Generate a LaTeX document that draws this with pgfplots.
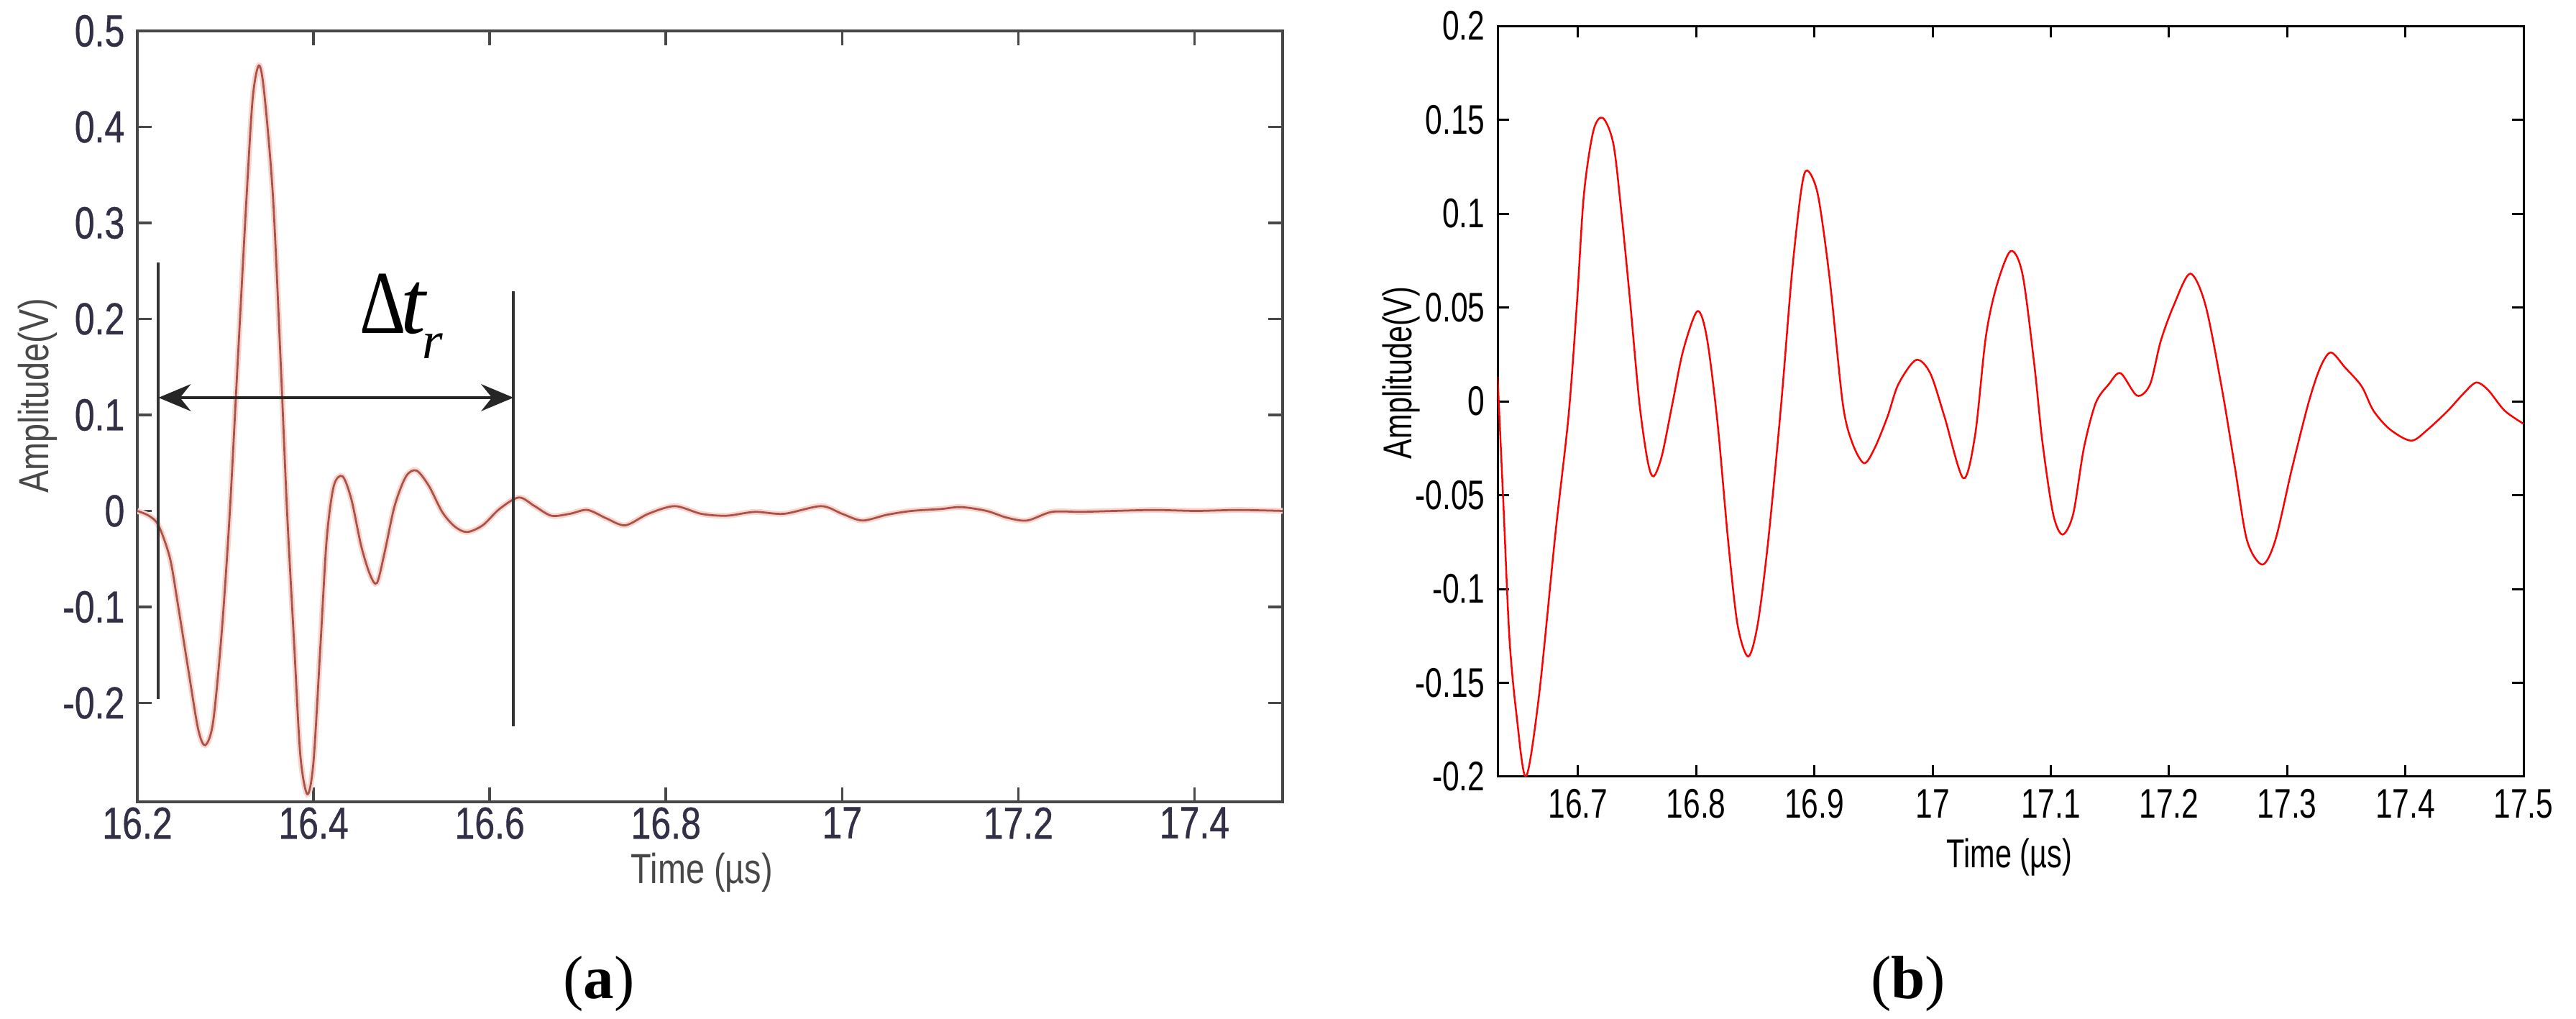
\documentclass[border=0pt]{standalone}
\usepackage{pgfplots}
\pgfplotsset{compat=1.18}
\usepackage{pgfplotstable}
\usetikzlibrary{arrows.meta}
\usepackage{fontspec}
\setmainfont{Liberation Sans}
\newfontfamily\lnarrow[FakeStretch=0.8]{Liberation Sans}
\newfontfamily\lnarrowb[FakeStretch=0.8,FakeBold=0.6]{Liberation Sans}
\newfontfamily\rnarrow[FakeStretch=0.74]{Liberation Sans}
\newfontfamily\tms{Liberation Serif}
\definecolor{trace}{RGB}{170,82,72}
\definecolor{halo}{RGB}{248,214,208}
\definecolor{inkA}{RGB}{50,48,70}
\definecolor{frameA}{RGB}{72,72,72}

% (a) received echo
\pgfplotstableread{
t v
16.200 0.000
16.213 -0.005
16.224 -0.015
16.237 -0.049
16.246 -0.097
16.258 -0.166
16.269 -0.227
16.277 -0.244
16.286 -0.220
16.296 -0.124
16.305 -0.001
16.314 0.156
16.324 0.327
16.331 0.430
16.338 0.464
16.344 0.436
16.354 0.327
16.363 0.149
16.370 -0.001
16.378 -0.138
16.385 -0.254
16.393 -0.295
16.400 -0.261
16.408 -0.138
16.415 -0.029
16.423 0.026
16.433 0.036
16.443 0.012
16.454 -0.036
16.464 -0.066
16.472 -0.075
16.481 -0.042
16.492 0.005
16.505 0.036
16.517 0.042
16.531 0.026
16.546 -0.001
16.560 -0.016
16.574 -0.022
16.592 -0.015
16.611 0.002
16.633 0.014
16.651 0.005
16.670 -0.005
16.691 -0.003
16.711 0.001
16.733 -0.008
16.754 -0.015
16.780 -0.003
16.810 0.005
16.840 -0.003
16.869 -0.005
16.901 -0.001
16.934 -0.003
16.976 0.005
17.000 -0.003
17.023 -0.010
17.051 -0.004
17.079 0.000
17.112 0.002
17.135 0.004
17.164 0.000
17.187 -0.007
17.210 -0.010
17.238 -0.001
17.271 -0.001
17.309 0.000
17.355 0.001
17.402 0.000
17.449 0.001
17.500 0.000
}\echoA

% (b) reflected signal
\pgfplotstableread{
t v
16.632 0.013
16.637 -0.056
16.642 -0.126
16.648 -0.167
16.656 -0.200
16.667 -0.157
16.681 -0.070
16.692 -0.008
16.699 0.051
16.705 0.110
16.713 0.144
16.721 0.151
16.730 0.137
16.737 0.099
16.744 0.054
16.752 -0.001
16.759 -0.032
16.764 -0.040
16.771 -0.029
16.780 -0.001
16.789 0.027
16.801 0.048
16.809 0.034
16.818 -0.011
16.827 -0.074
16.835 -0.119
16.844 -0.136
16.852 -0.119
16.861 -0.074
16.872 -0.001
16.881 0.068
16.889 0.113
16.894 0.123
16.903 0.110
16.913 0.065
16.924 -0.001
16.932 -0.022
16.942 -0.033
16.951 -0.025
16.962 -0.008
16.971 0.009
16.986 0.022
16.998 0.015
17.010 -0.008
17.026 -0.041
17.036 -0.018
17.045 0.034
17.054 0.061
17.066 0.080
17.076 0.068
17.086 0.020
17.093 -0.022
17.102 -0.060
17.110 -0.071
17.119 -0.060
17.128 -0.025
17.138 -0.001
17.149 0.009
17.159 0.015
17.173 0.003
17.184 0.009
17.193 0.032
17.204 0.051
17.218 0.068
17.231 0.051
17.245 0.006
17.256 -0.036
17.266 -0.074
17.279 -0.087
17.290 -0.074
17.304 -0.036
17.318 -0.001
17.328 0.018
17.337 0.026
17.349 0.018
17.363 0.008
17.373 -0.005
17.387 -0.015
17.405 -0.021
17.419 -0.015
17.436 -0.005
17.449 0.004
17.460 0.010
17.470 0.006
17.484 -0.005
17.500 -0.012
}\echoB

\begin{document}
\begin{tikzpicture}
\path[use as bounding box] (0,0) rectangle (716.6pt,283.4pt);

\begin{axis}[at={(38.2pt,60.4pt)}, anchor=south west, scale only axis,
    width=318.6pt, height=214.4pt,
    xmin=16.2, xmax=17.5, ymin=-0.303, ymax=0.5,
    xtick={16.2,16.4,16.6,16.8,17,17.2,17.4},
    xticklabels={16.2,16.4,16.6,16.8,17,17.2,17.4},
    ytick={-0.2,-0.1,0,0.1,0.2,0.3,0.4,0.5},
    yticklabels={-0.2,-0.1,0,0.1,0.2,0.3,0.4,0.5},
    scaled ticks=false,
    tick align=inside, major tick length=4pt,
    axis line style={frameA, line width=0.7pt},
    every tick/.style={frameA, line width=0.7pt},
    ticklabel style={font=\lnarrowb\fontsize{12.5}{14}\selectfont, text=inkA},
    xticklabel style={yshift=2pt},
    xlabel={Time (µs)}, ylabel={Amplitude(V)},
    label style={font=\lnarrow\fontsize{11.7}{14}\selectfont, text=frameA},
    xlabel style={at={(axis description cs:0.493,-0.0914)}, anchor=center},
    ylabel style={at={(axis description cs:-0.0873,0.527)}, anchor=center}]
\addplot[halo, line width=1.6pt, smooth, tension=0.5] table[x=t, y=v] {\echoA};
\addplot[trace, line width=0.55pt, smooth, tension=0.5] table[x=t, y=v] {\echoA};
% bracket lines and the interval arrow
\draw[black!80, line width=0.8pt] (axis cs:16.224,0.259) -- (axis cs:16.224,-0.196);
\draw[black!80, line width=0.8pt] (axis cs:16.627,0.229) -- (axis cs:16.627,-0.224);
\draw[black!85, line width=0.8pt,
      {Stealth[length=9pt,width=7.5pt,inset=3pt]}-{Stealth[length=9pt,width=7.5pt,inset=3pt]}]
      (axis cs:16.224,0.118) -- (axis cs:16.627,0.118);
\node[anchor=base west, inner sep=0pt, font=\tms\fontsize{25}{25}\selectfont]
      at (axis cs:16.452,0.185)
      {\scalebox{0.8}[1]{Δ}\kern-1.5pt\textit{t}\kern-1.5pt\raisebox{-6.9pt}{\fontsize{14.7}{15}\selectfont\textit{r}}};
\end{axis}

\begin{axis}[at={(416.6pt,67.4pt)}, anchor=south west, scale only axis,
    width=285.4pt, height=208.8pt,
    xmin=16.632, xmax=17.5, ymin=-0.2, ymax=0.2,
    xtick={16.7,16.8,16.9,17,17.1,17.2,17.3,17.4,17.5},
    xticklabels={16.7,16.8,16.9,17,17.1,17.2,17.3,17.4,17.5},
    ytick={-0.2,-0.15,-0.1,-0.05,0,0.05,0.1,0.15,0.2},
    yticklabels={-0.2,-0.15,-0.1,-0.05,0,0.05,0.1,0.15,0.2},
    scaled ticks=false,
    tick align=inside, major tick length=3.2pt,
    axis line style={black, line width=0.6pt},
    every tick/.style={black, line width=0.6pt},
    ticklabel style={font=\rnarrow\fontsize{11.5}{13}\selectfont, text=black},
    xlabel={Time (µs)}, ylabel={Amplitude(V)},
    label style={font=\rnarrow\fontsize{11.2}{13}\selectfont, text=black},
    xlabel style={at={(axis description cs:0.499,-0.107)}, anchor=center},
    ylabel style={at={(axis description cs:-0.0939,0.538)}, anchor=center}]
\addplot[red, line width=0.5pt, smooth, tension=0.5] table[x=t, y=v] {\echoB};
\end{axis}

\node[font=\tms\fontsize{17}{20}\selectfont] at (166.6pt,9.8pt) {(\textbf{a})};
\node[font=\tms\fontsize{17}{20}\selectfont] at (530.8pt,9.8pt) {(\textbf{b})};
\end{tikzpicture}
\end{document}
